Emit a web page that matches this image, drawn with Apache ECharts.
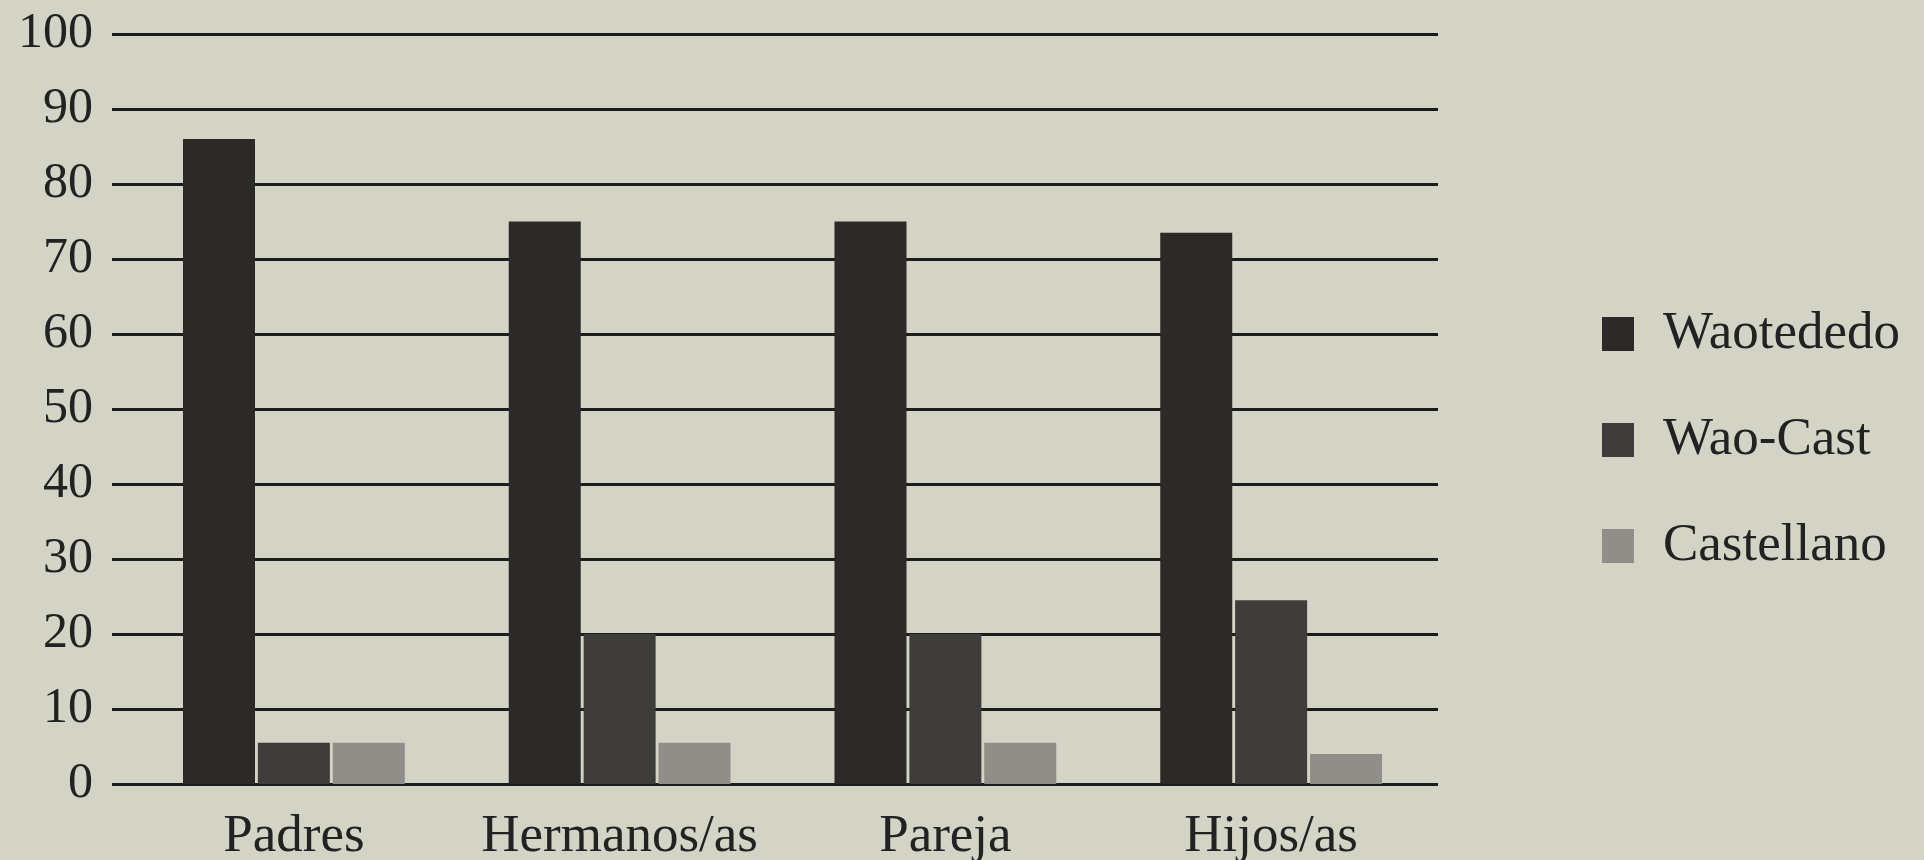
<!DOCTYPE html>
<html>
<head>
<meta charset="utf-8">
<script src="https://cdn.jsdelivr.net/npm/echarts@6/dist/echarts.min.js"></script>
<style>
  html, body { margin: 0; padding: 0; background: #d3d3c6; }
  #chart { width: 1924px; height: 860px; }
</style>
</head>
<body>
<div id="chart"></div>
<script>
// categorías y valores (%)
var categorias = ['Padres', 'Hermanos/as', 'Pareja', 'Hijos/as'];
var series_nombres = ['Waotededo', 'Wao-Cast', 'Castellano'];
var waotededo = [86, 75, 75, 73.5];
var waoCast = [5.5, 20, 20, 24.5];
var castellano = [5.5, 5.5, 5.5, 4];
var yTicks = [0, 10, 20, 30, 40, 50, 60, 70, 80, 90, 100];

var colores = ['#2b2a28', '#3e3d3b', '#8f8e89'];
var fuente = '"Liberation Serif", "DejaVu Serif", serif';

var chart = echarts.init(document.getElementById('chart'));

var mkBar = function (name, data, idx) {
    return {
        name: name,
        type: 'bar',
        xAxisIndex: 1,
        yAxisIndex: 1,
        barWidth: 72,
        barGap: '4%',
        itemStyle: { color: colores[idx] },
        data: data
    };
};

var option = {
    backgroundColor: '#d3d3c6',
    animation: false,
    textStyle: { fontFamily: fuente },
    grid: [
        // rejilla de líneas y etiquetas del eje Y
        { left: 112, right: 486, top: 34, bottom: 76, outerBoundsMode: 'none' },
        // barras y categorías
        { left: 131, right: 490, top: 34, bottom: 76, outerBoundsMode: 'none' }
    ],
    legend: {
        orient: 'vertical',
        left: 1597,
        top: 302,
        itemWidth: 32,
        itemHeight: 34,
        itemGap: 52,
        icon: 'rect',
        data: series_nombres,
        textStyle: {
            fontFamily: fuente,
            fontSize: 53,
            lineHeight: 54,
            color: '#222',
            padding: [0, 0, 0, 24]
        }
    },
    xAxis: [
        { type: 'category', gridIndex: 0, show: false, data: categorias },
        {
            type: 'category',
            gridIndex: 1,
            data: categorias,
            axisLine: { show: false },
            axisTick: { show: false },
            axisLabel: {
                interval: 0,
                margin: 27,
                fontFamily: fuente,
                fontSize: 53,
                lineHeight: 53,
                color: '#222'
            }
        }
    ],
    yAxis: [
        {
            type: 'value',
            gridIndex: 0,
            min: yTicks[0],
            max: yTicks[yTicks.length - 1],
            interval: 10,
            axisLine: { show: false },
            axisTick: { show: false },
            axisLabel: {
                margin: 19,
                fontFamily: fuente,
                fontSize: 50,
                color: '#222'
            },
            splitLine: { lineStyle: { color: '#1c1c1c', width: 3 } }
        },
        {
            type: 'value',
            gridIndex: 1,
            min: 0,
            max: 100,
            interval: 10,
            show: false,
            splitLine: { show: false }
        }
    ],
    series: [
        mkBar(series_nombres[0], waotededo, 0),
        mkBar(series_nombres[1], waoCast, 1),
        mkBar(series_nombres[2], castellano, 2)
    ]
};
chart.setOption(option);
</script>
</body>
</html>
